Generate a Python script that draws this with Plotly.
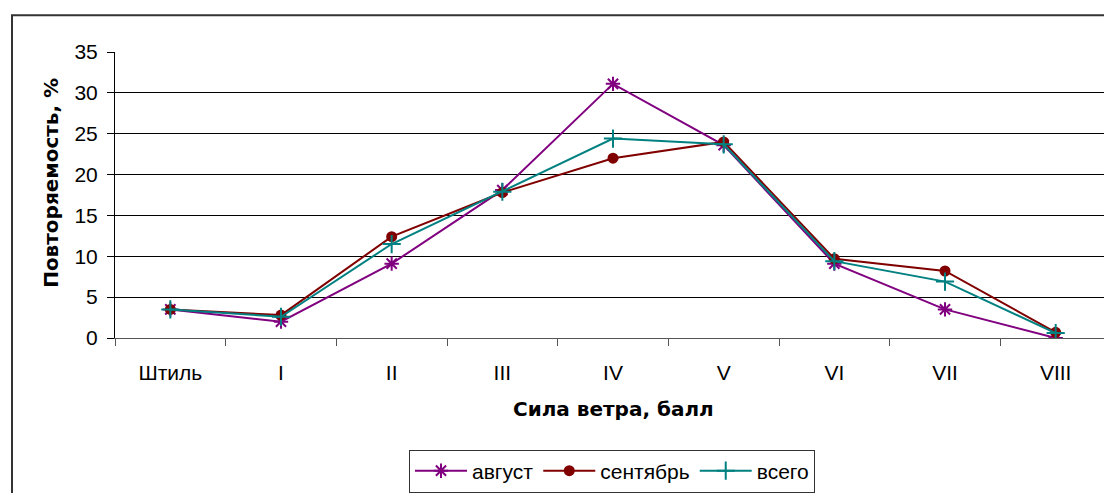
import plotly.graph_objects as go

categories = ["Штиль", "I", "II", "III", "IV", "V", "VI", "VII", "VIII"]
august = [3.5, 2.0, 9.1, 18.1, 31.1, 23.6, 9.1, 3.5, 0.0]
september = [3.5, 2.8, 12.4, 17.8, 22.0, 24.0, 9.7, 8.2, 0.7]
total = [3.5, 2.6, 11.5, 17.9, 24.4, 23.7, 9.4, 6.9, 0.6]
y_ticks = [0, 5, 10, 15, 20, 25, 30, 35]

FONT = "Liberation Sans, Arial, sans-serif"
BOLD_FONT = "DejaVu Sans, sans-serif"

fig = go.Figure()
fig.add_trace(go.Scatter(
    x=categories, y=august, name="август", mode="lines+markers",
    line=dict(color="#800080", width=2),
    marker=dict(symbol="asterisk-open", size=12, color="#800080",
                line=dict(color="#800080", width=2)),
))
fig.add_trace(go.Scatter(
    x=categories, y=september, name="сентябрь", mode="lines+markers",
    line=dict(color="#800000", width=2),
    marker=dict(symbol="circle", size=11, color="#800000"),
))
fig.add_trace(go.Scatter(
    x=categories, y=total, name="всего", mode="lines+markers",
    line=dict(color="#008080", width=2),
    marker=dict(symbol="cross-thin-open", size=13, color="#008080",
                line=dict(color="#008080", width=2)),
))

OFF = 8  # page body margin
W, H = 1104, 485
L = 115 - OFF
T = 52 - OFF
R = W - (1111 - OFF)
B = H - (340.5 - OFF)
pw = W - L - R
ph = H - T - B

def px_x(px):
    return (px - OFF - L) / pw

def px_y(py):
    return (H - B - (py - OFF)) / ph

fig.update_layout(
    width=W, height=H,
    margin=dict(l=L, r=R, t=T, b=B),
    paper_bgcolor="white", plot_bgcolor="white",
    font=dict(family=FONT, size=21, color="black"),
    showlegend=True,
    legend=dict(
        orientation="h", x=px_x(612), y=px_y(453),
        xanchor="center", yanchor="top",
        bordercolor="#333333", borderwidth=1,
        font=dict(size=21, family=FONT), tracegroupgap=0,
        itemwidth=52,
    ),
    xaxis=dict(
        type="category", range=[-0.5, 8.5],
        showgrid=False, showline=True, linecolor="#555555", linewidth=1,
        ticks="outside", ticklen=7, tickcolor="#555555", tickson="boundaries",
        ticklabelstandoff=16,
        tickfont=dict(size=21, family=FONT),
    ),
    yaxis=dict(
        range=[0, 35], tickvals=y_ticks,
        showgrid=True, gridcolor="black", gridwidth=1,
        showline=True, linecolor="black", linewidth=1,
        ticks="outside", ticklen=7, tickcolor="black",
        ticklabelstandoff=5,
        tickfont=dict(size=21, family=FONT),
        zeroline=False,
    ),
    annotations=[
        dict(text="<b>Сила ветра, балл</b>", xref="paper", yref="paper",
             x=px_x(613), y=px_y(412), showarrow=False,
             xanchor="center", yanchor="middle",
             font=dict(size=20, family=BOLD_FONT)),
        dict(text="<b>Повторяемость, %</b>", xref="paper", yref="paper",
             x=px_x(51), y=px_y(184), showarrow=False, textangle=-90,
             xanchor="center", yanchor="middle",
             font=dict(size=20, family=BOLD_FONT)),
    ],
    shapes=[
        dict(type="rect", xref="paper", yref="paper",
             x0=px_x(12), y0=px_y(520), x1=px_x(1130), y1=px_y(15),
             line=dict(color="#333333", width=2), fillcolor="rgba(0,0,0,0)",
             layer="below"),
    ],
)

fig.write_html("out.html")
